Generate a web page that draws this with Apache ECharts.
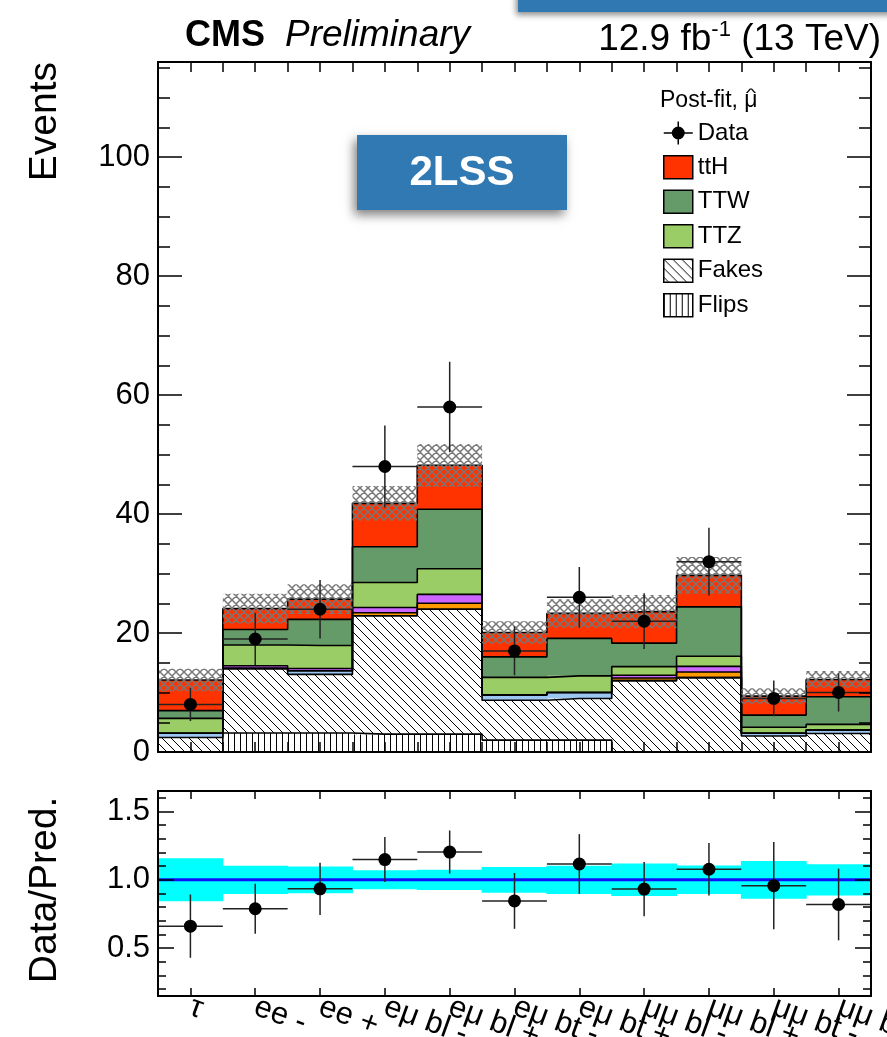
<!DOCTYPE html>
<html><head><meta charset="utf-8">
<script src="https://cdn.jsdelivr.net/npm/echarts@6/dist/echarts.min.js"></script>
<style>html,body{margin:0;padding:0;background:#fff}#c{width:887px;height:1037px}</style>
</head><body><div id="c"></div>
<script>
// ---- data ----
const categories = ['τ','ee -','ee +','eμ bl -','eμ bl +','eμ bt -','eμ bt +','μμ bl -','μμ bl +','μμ bt -','μμ bt +'];
const flips  = [0, 3.2, 3.2, 3.0, 3.0, 2.0, 2.0, 0, 0, 0, 0];
const fakes  = [2.45, 10.8, 9.85, 19.9, 21.0, 6.7, 7.0, 12.0, 12.5, 2.7, 3.1];
const rares  = [0.7, 0, 0.6, 0, 0, 0.9, 1.0, 0, 0, 0.45, 0.6];
const convs  = [0, 0.1, 0, 0.5, 1.0, 0, 0, 0.45, 0.95, 0, 0];
const ewk    = [0, 0.4, 0.4, 0.9, 1.5, 0, 0, 0.45, 0.95, 0, 0];
const ttz    = [2.5, 3.5, 3.85, 4.2, 4.3, 2.95, 2.8, 1.45, 1.7, 1.0, 0.95];
const ttw    = [1.3, 2.6, 4.4, 6.0, 10.0, 3.45, 6.3, 3.95, 8.3, 2.05, 4.65];
const tth    = [5.15, 3.5, 3.4, 7.3, 7.4, 4.1, 4.2, 5.3, 5.3, 3.2, 2.9];
const dataVals = [8, 19, 24, 48, 58, 17, 26, 22, 32, 9, 10];
const dataErr  = [2.8, 4.4, 4.9, 6.9, 7.6, 4.1, 5.1, 4.7, 5.7, 3.0, 3.2];
const predUnc  = [1.9, 2.5, 2.5, 2.9, 3.6, 1.9, 2.4, 2.8, 3.1, 1.3, 1.4];
const yTicksMain  = [0, 20, 40, 60, 80, 100];
const yTicksMinor = [5,10,15,25,30,35,45,50,55,65,70,75,85,90,95,105,110,115];
const rTicksMain  = [0.5, 1.0, 1.5];
const rTicksMinor = [0.2,0.3,0.4,0.6,0.7,0.8,0.9,1.1,1.2,1.3,1.4,1.6];

const FONT = '"Liberation Sans", Arial, Helvetica, sans-serif';
const NB = categories.length;
const centers = categories.map((_, i) => i + 0.5);
const centersEven = centers.filter((_, i) => i % 2 === 0);
const centersOdd  = centers.filter((_, i) => i % 2 === 1);

function makePattern(w, h, draw) {
  const c = document.createElement('canvas'); c.width = w; c.height = h;
  const g = c.getContext('2d'); draw(g, w, h);
  return { image: c, repeat: 'repeat' };
}
const patDiag = makePattern(9, 9, (g, s) => {
  g.fillStyle = '#fff'; g.fillRect(0, 0, s, s);
  g.strokeStyle = '#000'; g.lineWidth = 1; g.beginPath();
  for (const d of [-s, 0, s]) { g.moveTo(d, 0); g.lineTo(d + s, s); }
  g.stroke();
});
const patVert = makePattern(6, 6, (g, w, h) => {
  g.fillStyle = '#fff'; g.fillRect(0, 0, w, h);
  g.fillStyle = '#000'; g.fillRect(0, 0, 1, h);
});
const patCross = makePattern(8, 8, (g, s) => {
  g.strokeStyle = '#777'; g.lineWidth = 1.5; g.beginPath();
  for (const d of [-s, 0, s]) { g.moveTo(d, 0); g.lineTo(d + s, s); g.moveTo(d + s, 0); g.lineTo(d, s); }
  g.stroke();
});

const stackDefs = [
  { name: 'Flips', vals: flips, fill: patVert },
  { name: 'Fakes', vals: fakes, fill: patDiag },
  { name: 'Rares', vals: rares, fill: '#9cc6f2' },
  { name: 'Convs', vals: convs, fill: '#ff9a00' },
  { name: 'EWK',   vals: ewk,   fill: '#cc66ff' },
  { name: 'TTZ',   vals: ttz,   fill: '#9acd65' },
  { name: 'TTW',   vals: ttw,   fill: '#659b68' },
  { name: 'ttH',   vals: tth,   fill: '#ff3300' }
];
let cum = new Array(NB).fill(0);
const layers = stackDefs.map(d => {
  const bottom = cum.slice();
  cum = cum.map((c, i) => c + d.vals[i]);
  return Object.assign({}, d, { bottom, top: cum.slice() });
});
const total = cum.slice();

function rectRender(fill, expand) {
  return function (params, api) {
    const i = api.value(0);
    const p0 = api.coord([i, api.value(1)]);
    const p1 = api.coord([i + 1, api.value(2)]);
    return { type: 'rect', shape: { x: p0[0] - expand, y: p1[1], width: p1[0] - p0[0] + 2 * expand, height: p0[1] - p1[1] },
      style: { fill: fill, stroke: null } };
  };
}
function errRender(params, api) {
  const i = api.value(0), v = api.value(1), e = api.value(2);
  const pl = api.coord([i, v]), pr = api.coord([i + 1, v]);
  const pt = api.coord([i + 0.5, v + e]), pb = api.coord([i + 0.5, v - e]);
  const pc = api.coord([i + 0.5, v]);
  return { type: 'group', children: [
    { type: 'line', shape: { x1: pl[0], y1: pl[1], x2: pr[0], y2: pr[1] }, style: { stroke: '#222', lineWidth: 1.5 } },
    { type: 'line', shape: { x1: pt[0], y1: pt[1], x2: pb[0], y2: pb[1] }, style: { stroke: '#222', lineWidth: 1.5 } },
    { type: 'circle', shape: { cx: pc[0], cy: pc[1], r: 6.5 }, style: { fill: '#000' } }
  ] };
}

const series = [];
layers.forEach(L => {
  series.push({
    name: L.name, type: 'custom', xAxisIndex: 0, yAxisIndex: 0, z: 2, silent: true,
    itemStyle: { color: L.fill },
    data: L.bottom.map((b, i) => [i, b, L.top[i]]),
    encode: { x: 0, y: [1, 2] },
    renderItem: rectRender(L.fill, 0.5)
  });
});
layers.forEach(L => {
  const pts = [[0, L.top[0]]];
  L.top.forEach((t, i) => pts.push([i + 0.5, t]));
  pts.push([NB, L.top[NB - 1]]);
  series.push({
    type: 'line', xAxisIndex: 0, yAxisIndex: 0, z: 3, silent: true, step: 'middle',
    showSymbol: false, symbol: 'none', data: pts,
    lineStyle: { color: '#000', width: 1.6 }
  });
});
series.push({
  name: 'Uncertainty', type: 'custom', xAxisIndex: 0, yAxisIndex: 0, z: 4, silent: true,
  data: total.map((t, i) => [i, t - predUnc[i], t + predUnc[i]]),
  encode: { x: 0, y: [1, 2] },
  renderItem: rectRender(patCross, 0)
});
series.push({
  name: 'Data', type: 'custom', xAxisIndex: 0, yAxisIndex: 0, z: 5, silent: true,
  itemStyle: { color: '#000' },
  data: dataVals.map((v, i) => [i, v, dataErr[i]]),
  encode: { x: 0, y: 1 },
  renderItem: errRender
});
// ratio panel
series.push({
  type: 'custom', xAxisIndex: 2, yAxisIndex: 4, z: 2, silent: true,
  data: total.map((t, i) => [i, 1 - predUnc[i] / t, 1 + predUnc[i] / t]),
  encode: { x: 0, y: [1, 2] },
  renderItem: rectRender('#00ffff', 0.5)
});
series.push({
  type: 'line', xAxisIndex: 2, yAxisIndex: 4, z: 3, silent: true, showSymbol: false, symbol: 'none',
  data: [[0, 1], [NB, 1]], lineStyle: { color: '#1010ff', width: 3 }
});
series.push({
  type: 'custom', xAxisIndex: 2, yAxisIndex: 4, z: 5, silent: true,
  data: dataVals.map((v, i) => [i, v / total[i], dataErr[i] / total[i]]),
  encode: { x: 0, y: 1 },
  renderItem: errRender
});

function xAx(grid, pos, opts) {
  return Object.assign({
    gridIndex: grid, type: 'value', position: pos, min: 0, max: NB, z: 10,
    axisLine: { show: true, onZero: false, lineStyle: { color: '#000', width: 2 } },
    axisTick: { show: true, inside: true, length: 10, lineStyle: { color: '#000', width: 1.5 } },
    axisLabel: { show: false }, splitLine: { show: false }, minorTick: { show: false }
  }, opts);
}
function catLabels(values) {
  return { show: true, customValues: values, rotate: -20, margin: 10, fontSize: 31, fontFamily: FONT, color: '#000',
    showMinLabel: true, showMaxLabel: true, hideOverlap: false,
    formatter: v => categories[Math.floor(v)] };
}
function yAx(grid, pos, min, max, ticks, len, withLabels, lineShow) {
  return {
    gridIndex: grid, type: 'value', position: pos, min: min, max: max, z: 10,
    axisLine: { show: lineShow, onZero: false, lineStyle: { color: '#000', width: 2 } },
    axisTick: { show: true, inside: true, length: len, customValues: ticks, lineStyle: { color: '#000', width: 1.5 } },
    axisLabel: withLabels ? { show: true, customValues: ticks, margin: 8, fontSize: 31, fontFamily: FONT, color: '#000',
      showMinLabel: true, showMaxLabel: true,
      formatter: v => (max < 5 ? Number(v).toFixed(1) : String(v)) } : { show: false },
    splitLine: { show: false }, minorTick: { show: false }
  };
}

const dataIcon = 'path://M0,10.75L29,10.75L29,12.25L0,12.25Z M13.75,0L15.25,0L15.25,23L13.75,23Z M8,11.5A6.5,6.5,0,1,1,21,11.5A6.5,6.5,0,1,1,8,11.5Z';

const option = {
  animation: false,
  backgroundColor: '#fff',
  grid: [
    { left: 158, right: 16, top: 62, height: 690, containLabel: false, outerBoundsMode: 'none' },
    { left: 158, right: 16, top: 791, height: 205, containLabel: false, outerBoundsMode: 'none' }
  ],
  xAxis: [
    xAx(0, 'bottom', { interval: 0.5 }),
    xAx(0, 'top', { interval: 0.5 }),
    xAx(1, 'bottom', {
      axisTick: { show: true, inside: true, length: 8, customValues: centers, lineStyle: { color: '#000', width: 1.5 } },
      axisLabel: catLabels(centersEven)
    }),
    xAx(1, 'top', {
      axisTick: { show: true, inside: true, length: 8, customValues: centers, lineStyle: { color: '#000', width: 1.5 } }
    }),
    xAx(1, 'bottom', {
      axisLine: { show: false, onZero: false }, axisTick: { show: false },
      axisLabel: catLabels(centersOdd)
    })
  ],
  yAxis: [
    yAx(0, 'left', 0, 116, yTicksMain, 24, true, true),
    yAx(0, 'left', 0, 116, yTicksMinor, 12, false, false),
    yAx(0, 'right', 0, 116, yTicksMain, 24, false, true),
    yAx(0, 'right', 0, 116, yTicksMinor, 12, false, false),
    yAx(1, 'left', 0.15, 1.65, rTicksMain, 16, true, true),
    yAx(1, 'left', 0.15, 1.65, rTicksMinor, 8, false, false),
    yAx(1, 'right', 0.15, 1.65, rTicksMain, 16, false, true),
    yAx(1, 'right', 0.15, 1.65, rTicksMinor, 8, false, false)
  ],
  legend: {
    orient: 'vertical', left: 663, top: 121, padding: 0, itemWidth: 29, itemHeight: 23, itemGap: 10,
    selectedMode: false,
    textStyle: { fontSize: 24, fontFamily: FONT, color: '#000', lineHeight: 23 },
    data: [
      { name: 'Data', icon: dataIcon, itemStyle: { color: '#000', borderWidth: 0 } },
      { name: 'ttH', icon: 'rect', itemStyle: { color: '#ff3300', borderColor: '#000', borderWidth: 1.5 } },
      { name: 'TTW', icon: 'rect', itemStyle: { color: '#659b68', borderColor: '#000', borderWidth: 1.5 } },
      { name: 'TTZ', icon: 'rect', itemStyle: { color: '#9acd65', borderColor: '#000', borderWidth: 1.5 } },
      { name: 'Fakes', icon: 'rect', itemStyle: { color: patDiag, borderColor: '#000', borderWidth: 1.5 } },
      { name: 'Flips', icon: 'rect', itemStyle: { color: patVert, borderColor: '#000', borderWidth: 1.5 } }
    ]
  },
  graphic: [
    { type: 'rect', shape: { x: 518, y: -12, width: 380, height: 24 }, z: 20,
      style: { fill: '#2f78b1', shadowBlur: 6, shadowOffsetX: -2, shadowOffsetY: 3, shadowColor: 'rgba(0,0,0,0.45)' } },
    { type: 'rect', shape: { x: 357, y: 135, width: 210, height: 75 }, z: 20,
      style: { fill: '#3079b2', shadowBlur: 10, shadowOffsetX: -3, shadowOffsetY: 5, shadowColor: 'rgba(0,0,0,0.5)' } },
    { type: 'text', x: 462, y: 173, z: 21,
      style: { text: '2LSS', fill: '#fff', fontSize: 42, fontWeight: 'bold', fontFamily: FONT, align: 'center', verticalAlign: 'middle' } },
    { type: 'text', x: 185, y: 36, z: 20,
      style: { text: 'CMS', fill: '#000', fontSize: 36, fontWeight: 'bold', fontFamily: FONT, align: 'left', verticalAlign: 'middle' } },
    { type: 'text', x: 285, y: 36, z: 20,
      style: { text: 'Preliminary', fill: '#000', fontSize: 37, fontStyle: 'italic', fontFamily: FONT, align: 'left', verticalAlign: 'middle' } },
    { type: 'text', x: 881, y: 40, z: 20,
      style: { text: '{n|12.9 fb}{s|-1}{n| (13 TeV)}', align: 'right', verticalAlign: 'middle',
        rich: { n: { fontSize: 37, fontFamily: FONT, fill: '#000', lineHeight: 42 },
                s: { fontSize: 22, fontFamily: FONT, fill: '#000', lineHeight: 24, verticalAlign: 'top' } } } },
    { type: 'text', x: 660, y: 101, z: 20,
      style: { text: 'Post-fit, μ', fill: '#000', fontSize: 23, fontFamily: FONT, align: 'left', verticalAlign: 'middle' } },
    { type: 'text', x: 751, y: 93, z: 20, scaleX: 1.7,
      style: { text: '^', fill: '#000', fontSize: 13, fontFamily: FONT, align: 'center', verticalAlign: 'middle' } },
    { type: 'text', x: 45, y: 62, rotation: Math.PI / 2, z: 20,
      style: { text: 'Events', fill: '#000', fontSize: 39, fontFamily: FONT, align: 'right', verticalAlign: 'middle' } },
    { type: 'text', x: 45, y: 890, rotation: Math.PI / 2, z: 20,
      style: { text: 'Data/Pred.', fill: '#000', fontSize: 39, fontFamily: FONT, align: 'center', verticalAlign: 'middle' } }
  ],
  series: series
};
const chart = echarts.init(document.getElementById('c'), null, { renderer: 'canvas' });
chart.setOption(option);
</script>
</body></html>
